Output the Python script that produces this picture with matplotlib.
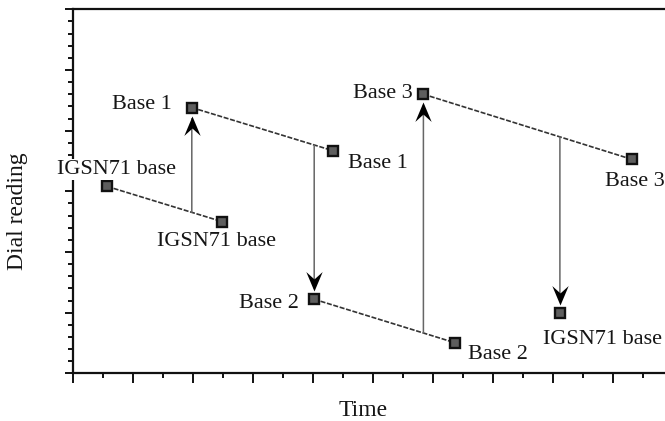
import numpy as np
import matplotlib
matplotlib.use("Agg")
import matplotlib.pyplot as plt
from matplotlib.path import Path
from matplotlib.ticker import MultipleLocator, NullFormatter
from matplotlib.transforms import ScaledTranslation

plt.rcParams['font.family'] = ['Liberation Serif', 'DejaVu Serif']

# readings in visiting order
point_t = [1.13, 4.96, 3.95, 8.65, 8.03, 12.72, 11.67, 18.61, 16.22]
point_r = [15.4, 12.5, 21.9, 18.35, 6.1, 2.52, 23.0, 17.64, 5.0]
point_name = ['IGSN71 base', 'IGSN71 base', 'Base 1', 'Base 1',
              'Base 2', 'Base 2', 'Base 3', 'Base 3', 'IGSN71 base']

# drift lines: (start index, end index) into the readings above
drift_pairs = [(0, 1), (2, 3), (4, 5), (6, 7)]
# ties: drift line number -> reading the arrow goes to
tie_line = [0, 1, 2, 3]
tie_to = [2, 4, 6, 8]

# label placement (offset in pixels, alignment)
label_off = [(9, 17, 'center'), (-6, -20, 'center'), (-20, 3, 'right'),
             (15, -13, 'left'), (-15, -4, 'right'), (13, -12, 'left'),
             (-11, 1, 'right'), (-27, -22, 'left'), (-17, -27, 'left')]

fig = plt.figure(figsize=(6.65, 4.21), dpi=100)
ax = fig.add_axes([73.3 / 665, 47.7 / 421, 600 / 665, 364 / 421])
ax.set_xlim(0, 20)
ax.set_ylim(0, 30)

t = np.array(point_t)
r = np.array(point_r)

# drift lines
for a, b in drift_pairs:
    ax.plot([t[a], t[b]], [r[a], r[b]], color='#333333', lw=1.2,
            ls=(0, (3, 1)), zorder=2)

# arrowhead marker (tip at origin, pointing up)
head = Path([(0, 0), (-0.42, -1), (0, -0.62), (0.42, -1), (0, 0)],
            [Path.MOVETO, Path.LINETO, Path.LINETO, Path.LINETO, Path.CLOSEPOLY])
head_dn = Path([(0, 0), (-0.42, 1), (0, 0.62), (0.42, 1), (0, 0)],
               [Path.MOVETO, Path.LINETO, Path.LINETO, Path.LINETO, Path.CLOSEPOLY])

for k, j in zip(tie_line, tie_to):
    a, b = drift_pairs[k]
    x = t[j]
    y0 = np.interp(x, [t[a], t[b]], [r[a], r[b]])
    y1 = r[j]
    up = y1 > y0
    ax.annotate('', xy=(x, y1), xytext=(x, y0),
                arrowprops=dict(arrowstyle='-', color='#666666', lw=1.1,
                                shrinkA=0, shrinkB=8))
    dy = -8 if up else 8
    tr = ax.transData + ScaledTranslation(0, dy / 100, fig.dpi_scale_trans)
    ax.plot([x], [y1], marker=head if up else head_dn, ms=28,
            color='black', mew=0, transform=tr, zorder=3)

# station markers
ax.plot(t, r, ls='none', marker='s', ms=7.5, mfc='#5e5e5e', mec='#111111',
        mew=1.7, zorder=4)

for i, name in enumerate(point_name):
    dx, dy, ha = label_off[i]
    ax.annotate(name, (t[i], r[i]), xytext=(dx, dy), textcoords='offset pixels',
                ha=ha, va='center', fontsize=16, color='#151515', zorder=5,
                bbox=dict(boxstyle='square,pad=0.05', fc='white', ec='none'))

# axes styling
ax.spines['right'].set_visible(False)
for s in ['left', 'bottom', 'top']:
    ax.spines[s].set_linewidth(1.6)
    ax.spines[s].set_color('#111111')

ax.xaxis.set_major_locator(MultipleLocator(2))
ax.xaxis.set_minor_locator(MultipleLocator(1))
ax.yaxis.set_major_locator(MultipleLocator(5))
ax.yaxis.set_minor_locator(MultipleLocator(1))
ax.xaxis.set_major_formatter(NullFormatter())
ax.yaxis.set_major_formatter(NullFormatter())
ax.tick_params(axis='x', which='major', direction='out', length=7, width=1.4,
               color='#111111')
ax.tick_params(axis='x', which='minor', direction='out', length=3.8, width=1.4,
               color='#111111')
ax.tick_params(axis='y', which='major', direction='out', length=5.5, width=1.4,
               color='#111111')
ax.tick_params(axis='y', which='minor', direction='out', length=3.4, width=1.4,
               color='#111111')
ax.tick_params(top=False, right=False)

fig.text(18 / 665, 1 - 211 / 421, 'Dial reading', rotation=90, ha='center',
         va='center', fontsize=17, color='#151515')
fig.text(363 / 665, 1 - 410 / 421, 'Time', ha='center', va='center',
         fontsize=17, color='#151515')

fig.savefig('out.png', dpi=100)
